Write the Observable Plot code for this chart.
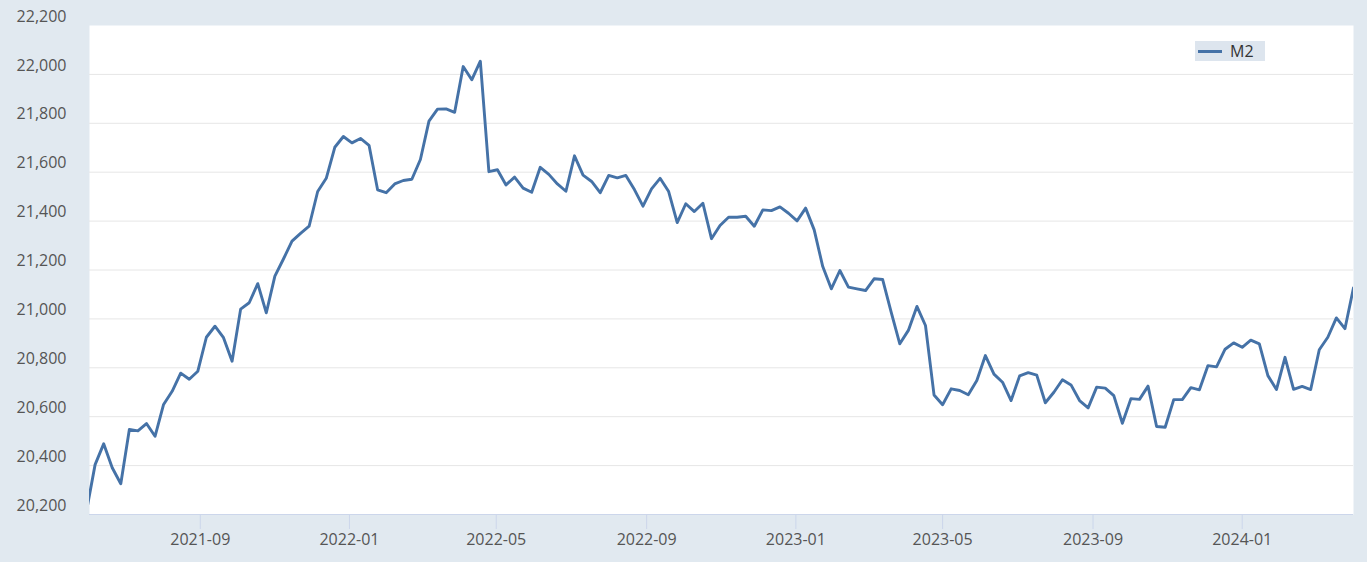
<!DOCTYPE html>
<html>
<head>
<meta charset="utf-8">
<script src="https://cdn.jsdelivr.net/npm/d3@7"></script>
<script src="https://cdn.jsdelivr.net/npm/@observablehq/plot@0.6"></script>
<style>
  html, body { margin: 0; padding: 0; background: #e1e9f0; }
  #chart { position: relative; width: 1367px; height: 562px; }
  #legend {
    position: absolute; left: 1195px; top: 41px; width: 70px; height: 20px;
    background: #dde5ee; font-family: "Open Sans", sans-serif; font-size: 16px; color: #333;
  }
  #legend .sw { position: absolute; left: 3px; top: 9px; width: 24px; height: 3px; background: #4572a7; }
  #legend .lb { position: absolute; left: 35px; top: -1px; line-height: 22px; }
</style>
</head>
<body>
<div id="chart"></div>
<script>
// Weekly series start (Monday) and M2 values, billions of dollars
const startDate = "2021-05-31";
const seriesName = "M2";
const m2Values = [
  20215, 20404, 20489, 20391, 20326, 20548, 20542, 20572, 20520, 20650,
  20704, 20778, 20753, 20786, 20925, 20970, 20923, 20827, 21040, 21066,
  21144, 21025, 21175, 21245, 21318, 21350, 21379, 21521, 21575, 21702,
  21746, 21720, 21738, 21710, 21528, 21516, 21552, 21566, 21571, 21652,
  21809, 21858, 21859, 21845, 22032, 21978, 22054, 21602, 21610, 21548,
  21580, 21535, 21518, 21620, 21591, 21552, 21522, 21667, 21588, 21562,
  21516, 21587, 21577, 21587, 21529, 21461, 21532, 21575, 21521, 21394,
  21471, 21439, 21473, 21328, 21382, 21416, 21416, 21420, 21379, 21446,
  21443, 21458, 21432, 21401, 21453, 21364, 21214, 21123, 21198, 21130,
  21123, 21116, 21164, 21161, 21027, 20898, 20953, 21051, 20973, 20689,
  20649, 20714, 20707, 20690, 20748, 20850, 20774, 20741, 20666, 20767,
  20780, 20770, 20657, 20700, 20751, 20730, 20666, 20636, 20721, 20717,
  20686, 20573, 20674, 20671, 20725, 20560, 20557, 20670, 20670, 20719,
  20710, 20809, 20804, 20876, 20902, 20884, 20913, 20898, 20768, 20711,
  20843, 20712, 20724, 20711, 20874, 20925, 21004, 20960, 21127
];
const yTicks = [20200, 20400, 20600, 20800, 21000, 21200, 21400, 21600, 21800, 22000, 22200];
const xTickLabels = ["2021-09", "2022-01", "2022-05", "2022-09", "2023-01", "2023-05", "2023-09", "2024-01"];

const start = new Date(startDate + "T00:00:00Z");
const data = m2Values.map((v, i) => ({ date: d3.utcWeek.offset(start, i), value: v }));
const xTickDates = xTickLabels.map(s => new Date(s + "-01T00:00:00Z"));
const gridTicks = yTicks.filter(t => t > 20200 && t < 22200);

const chart = Plot.plot({
  width: 1367,
  height: 562,
  marginLeft: 89,
  marginRight: 14,
  marginTop: 25,
  marginBottom: 48,
  style: { background: "#e1e9f0", fontFamily: "'Open Sans', sans-serif", fontSize: "16px", color: "#555" },
  x: { type: "utc", domain: [new Date("2021-06-02T10:00:00Z"), new Date("2024-04-01T00:00:00Z")] },
  y: { domain: [20200, 22200] },
  marks: [
    Plot.frame({ fill: "white", stroke: "none" }),
    Plot.gridY(gridTicks, { stroke: "#e6e6e6", strokeOpacity: 1, strokeWidth: 1 }),
    Plot.ruleY([20200], { stroke: "#ccd6eb", strokeWidth: 1 }),
    Plot.axisY(yTicks, { tickSize: 0, tickPadding: 23, dy: -9, tickFormat: d3.format(","), fill: "#555", label: null }),
    Plot.axisX(xTickDates, {
      tickSize: 15, tickPadding: 4, stroke: "#ccd6eb", fill: "#555",
      tickFormat: (d, i) => xTickLabels[i], label: null
    }),
    Plot.lineY(data, { x: "date", y: "value", stroke: "#4572a7", strokeWidth: 2.9, clip: true })
  ]
});

const root = document.getElementById("chart");
root.appendChild(chart);
const legend = document.createElement("div");
legend.id = "legend";
legend.innerHTML = '<div class="sw"></div><div class="lb"></div>';
legend.querySelector(".lb").textContent = seriesName;
root.appendChild(legend);
</script>
</body>
</html>
